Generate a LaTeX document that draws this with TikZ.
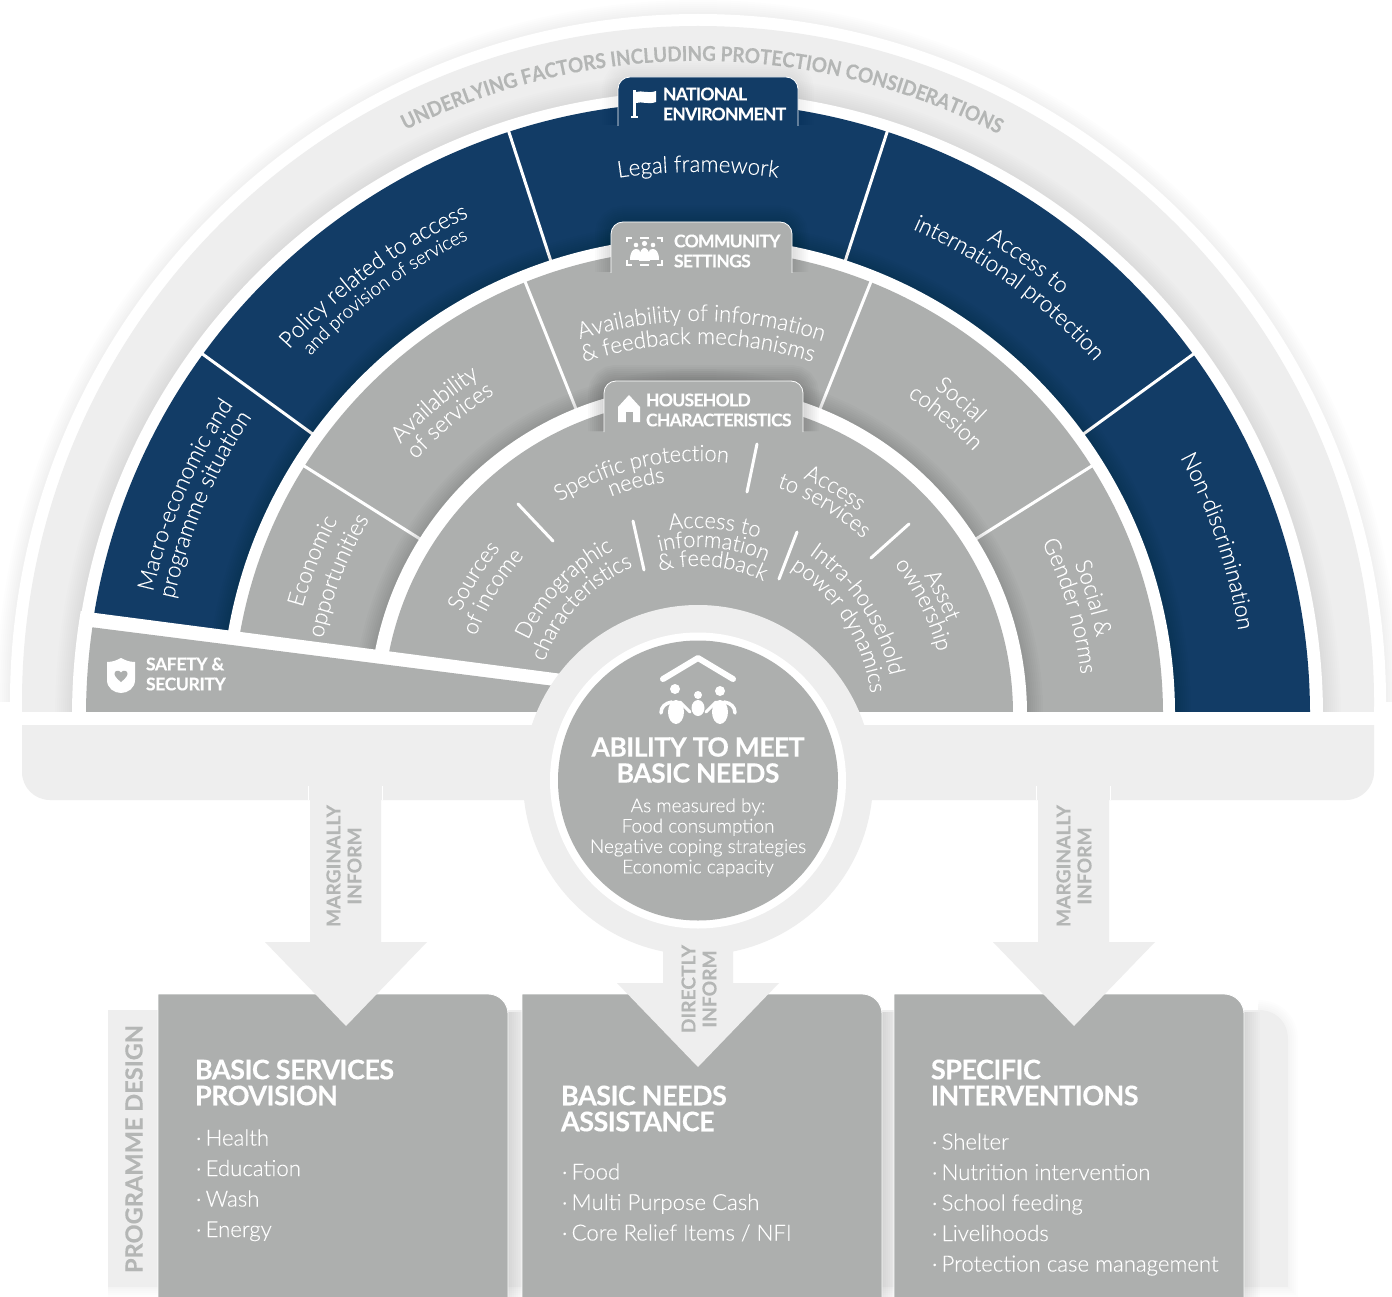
\documentclass[tikz,border=0pt]{standalone}
\usepackage{fontspec}
\setmainfont{Lato}
\newfontfamily\lt[FakeBold=0.25]{Lato Light}
\newfontfamily\lta[FakeBold=0.25,FakeStretch=0.97]{Lato Light}
\newfontfamily\hd[LetterSpace=-2,FakeBold=0.3]{Lato Bold}
\newfontfamily\hdt[LetterSpace=-4,FakeBold=0.3]{Lato Bold}
\newfontfamily\hdx[FakeBold=0.2]{Lato Bold}
\newfontfamily\hdu[FakeBold=0.2,FakeStretch=0.92]{Lato Bold}
\usetikzlibrary{decorations.text}
\definecolor{navy}{HTML}{123C66}
\definecolor{gr}{HTML}{ADAFAE}
\definecolor{lg}{HTML}{EEEEEE}
\definecolor{tg}{HTML}{B4B6B5}
\newcommand\sshade[2]{\foreach \w in {4,8,12,16,20,24,28,32}{\draw[black,draw opacity=#1,line width=\w pt,line cap=butt] #2;}}
\newcommand\arclab[4]{\path[decorate,decoration={text along path,text={|#3|#4},text align=center}] ({#2+70}:#1) arc[start angle=#2+70,end angle=#2-70,radius=#1];}
\def\LA{\color{white}\fontsize{23}{23}\lta}
\def\LB{\color{white}\fontsize{19}{19}\lta}
\def\LC{\color{white}\fontsize{23}{23}\lta}
\def\LD{\color{white}\fontsize{22.5}{22.5}\lta}
\def\LU{\color{tg}\fontsize{20.5}{20.5}\hdu}
\tikzset{
 lbl/.style={inner sep=0,outer sep=0,anchor=west,text=white},
 cen/.style={inner sep=0,outer sep=0,anchor=center,align=center},
 tabhead/.style={lbl,font=\hdt\fontsize{17.5}{20}\selectfont,align=left},
 boxhead/.style={lbl,font=\hd\fontsize{27}{26}\selectfont,align=left},
 boxitem/.style={inner sep=0,outer sep=0,anchor=base west,text=white,font=\lt\fontsize{22.2}{22}\selectfont},
 arrowtxt/.style={cen,rotate=90,text=tg,font=\hdx\fontsize{19.2}{21}\selectfont},
 divider/.style={white,line width=3pt},
 shortdiv/.style={white,line width=3pt,line cap=round},
}
\newcommand\dotitem[1]{·\kern-1.8pt\ #1}
\begin{document}
\begin{tikzpicture}[x=1pt,y=-1pt]
\useasboundingbox (0,0) rectangle (1392,1297);
\fill[white] (0,0) rectangle (1392,1297);
% outer white shape with soft shadow
\begin{scope}[shift={(698,702)},y=1pt]
 \foreach \w in {4,8,12,16,20,24,28}{\draw[black,draw opacity=.006,line width=\w pt] (0:688) arc[start angle=0,end angle=180,radius=688];}
 \fill[white] (0:688) arc[start angle=0,end angle=180,radius=688] -- (-688,-22) -- (688,-22) -- cycle;
 \begin{scope}
  \clip (-698,702) rectangle (694,-10);
  \fill[lg] (0,0) circle[radius=676];
 \end{scope}
\end{scope}
\fill[lg] (22,725) -- (1374,725) -- (1374,772) arc[start angle=0,end angle=90,radius=28] -- (50,800) arc[start angle=90,end angle=180,radius=28] -- cycle;
\fill[lg] (22,702) rectangle (73,712);
\fill[lg] (1323,702) rectangle (1374,712);
% wheel
\begin{scope}
\clip (0,0) rectangle (1392,712);
\begin{scope}[shift={(698,716)},y=1pt]
 \foreach \w in {4,8,...,36}{\draw[black,draw opacity=.008,line width=\w pt] (0:625) arc[start angle=0,end angle=180,radius=625];}
 \fill[white] (0,0) circle[radius=625];
\end{scope}
\begin{scope}[shift={(698,714)},y=1pt]
 \fill[navy] (0,0) circle[radius=612];
 \foreach \a in {36,72,108,144}{\draw[divider] (\a:470) -- (\a:614);}
 \sshade{.012}{(0:477) arc[start angle=0,end angle=180,radius=477]}
 \fill[white] (0,0) circle[radius=477];
 \fill[gr] (0,0) circle[radius=465];
 \foreach \a in {32.2,68.2,111.8,147.8}{\draw[divider] (\a:320) -- (\a:466);}
 \sshade{.016}{(0:329) arc[start angle=0,end angle=180,radius=329]}
 \fill[white] (0,0) circle[radius=329];
 \fill[gr] (0,0) circle[radius=315];
\end{scope}
\end{scope}
% safety wedge
\begin{scope}
 \clip (698,716) circle[radius=626];
 \fill[white] (70,609.7) -- (570,675) -- (570,712) -- (70,712) -- cycle;
\end{scope}
\begin{scope}
 \clip (90,627) -- (570,688) -- (570,712) -- (80,712) -- (80,626) -- cycle;
 \fill[gr] (698,716) circle[radius=612];
\end{scope}
\fill[white] (10,712) rectangle (1385,724.5);
% household dividers
\draw[shortdiv] (518,504) -- (553,541);
\draw[shortdiv] (757,444) -- (747,492);
\draw[shortdiv] (633,521) -- (644,570);
\draw[shortdiv] (797,532) -- (779,579);
\draw[shortdiv] (909,524) -- (871,558);
% arc labels
\begin{scope}[shift={(698,716)},y=1pt]
 \arclab{655}{89.6}{\LU}{UNDERLYING FACTORS INCLUDING PROTECTION CONSIDERATIONS}
 \arclab{544}{90}{\LA}{Legal framework}
 \arclab{556}{54}{\LA}{Access to}
 \arclab{532}{54}{\LA}{international protection}
 \arclab{547}{18.6}{\LA}{Non-discrimination}
 \arclab{549}{126.4}{\LA}{Policy related to access}
 \arclab{529}{126.4}{\LB}{and provision of services}
 \arclab{559}{156.7}{\LA}{Macro-economic and}
 \arclab{537}{156.8}{\LA}{programme situation}
 \arclab{395}{89.5}{\LC}{Availability of information}
 \arclab{372}{90}{\LC}{{\&} feedback mechanisms}
 \arclab{403}{130.2}{\LC}{Availability}
 \arclab{381}{130}{\LC}{of services}
 \arclab{410}{158.1}{\LC}{Economic}
 \arclab{383}{158.7}{\LC}{opportunities}
 \arclab{404}{50.3}{\LC}{Social}
 \arclab{382}{50.3}{\LC}{cohesion}
 \arclab{406}{16.6}{\LC}{Social {\&}}
 \arclab{385}{16.5}{\LC}{Gender norms}
 \arclab{255}{103}{\LD}{Specific protection}
 \arclab{236}{104.8}{\LD}{needs}
 \arclab{260}{59}{\LD}{Access}
 \arclab{242}{59}{\LD}{to services}
 \arclab{259}{148}{\LD}{Sources}
 \arclab{236}{148.8}{\LD}{of income}
 \arclab{266}{26.3}{\LD}{Asset}
 \arclab{248}{26.3}{\LD}{ownership}
 \arclab{186}{136.5}{\LD}{Demographic}
 \arclab{163}{137}{\LD}{characteristics}
 \arclab{188}{85}{\LD}{Access to}
 \arclab{169}{84.7}{\LD}{information}
 \arclab{150}{84.5}{\LD}{{\&} feedback}
 \arclab{196}{33.7}{\LD}{Intra-household}
 \arclab{174}{32.7}{\LD}{power dynamics}
\end{scope}
% tabs
\sshade{.006}{(618,125) [rounded corners=12] -- (618,77) -- (798,77) [sharp corners] -- (798,125)}
\fill[navy] (618,126) [rounded corners=12] -- (618,77) -- (798,77) [sharp corners] -- (798,126) -- cycle;
\draw[white,line width=.8pt] (618,126) [rounded corners=12] -- (618,77) -- (798,77) [sharp corners] -- (798,126);
\sshade{.014}{(611,272) [rounded corners=12] -- (611,222) -- (792,222) [sharp corners] -- (792,272)}
\fill[gr] (611,273) [rounded corners=12] -- (611,222) -- (792,222) [sharp corners] -- (792,273) -- cycle;
\draw[white,line width=.8pt] (611,273) [rounded corners=12] -- (611,222) -- (792,222) [sharp corners] -- (792,273);
\sshade{.018}{(604,431) [rounded corners=12] -- (604,381) -- (803,381) [sharp corners] -- (803,431)}
\fill[gr] (604,432) [rounded corners=12] -- (604,381) -- (803,381) [sharp corners] -- (803,432) -- cycle;
\draw[white,line width=.8pt] (604,432) [rounded corners=12] -- (604,381) -- (803,381) [sharp corners] -- (803,432);
\node[tabhead] (tnat) at (663,104) {NATIONAL\\ENVIRONMENT};
\node[tabhead] (tcom) at (674,251) {COMMUNITY\\SETTINGS};
\node[tabhead] (thou) at (646,410) {HOUSEHOLD\\CHARACTERISTICS};
\node[lbl,align=left,font=\hd\fontsize{17.5}{20}\selectfont] (tsaf) at (146,674) {SAFETY \&\\SECURITY};
% flag icon
\fill[white] (633,90) rectangle (635.5,117);
\fill[white] (631,116.5) rectangle (638,118);
\fill[white] (636,92) .. controls (642,90) and (648,94) .. (656,91) -- (656,102) .. controls (648,105) and (642,101) .. (636,103) -- cycle;
% community icon
\begin{scope}[white,line width=1.5pt]
 \draw (627,242) -- (627,238) -- (632,238);
 \draw (662,242) -- (662,238) -- (657,238);
 \draw (627,260) -- (627,265) -- (632,265);
 \draw (662,260) -- (662,265) -- (657,265);
 \draw (640,238) -- (649,238);
 \draw (640,265) -- (649,265);
\end{scope}
\fill[white] (636,245) circle[radius=2.3] (644.5,243.5) circle[radius=2.6] (653,245) circle[radius=2.3];
\fill[white] (630,260) .. controls (630,252) and (633,249) .. (636,249) .. controls (639,249) and (640,250) .. (640,252) -- (640,260) -- cycle;
\fill[white] (659,260) .. controls (659,252) and (656,249) .. (653,249) .. controls (650,249) and (649,250) .. (649,252) -- (649,260) -- cycle;
\fill[white] (639,261) .. controls (639,251) and (642,248) .. (644.5,248) .. controls (647,248) and (650,251) .. (650,261) -- cycle;
% house icon
\fill[white] (618,407) -- (629,395) -- (640,407) -- (640,422) -- (618,422) -- cycle;
\fill[gr] (626,412) rectangle (632.5,423);
% shield icon
\fill[white] (107,662) .. controls (113,662) and (117,660) .. (121,658) .. controls (125,660) and (129,662) .. (135,662) -- (135,680) .. controls (135,688) and (128,693) .. (121,693) .. controls (114,693) and (107,688) .. (107,680) -- cycle;
\fill[gr] (121,682) .. controls (116,678) and (114.5,675.5) .. (114.5,673.5) .. controls (114.5,670.5) and (119,669.5) .. (121,672.5) .. controls (123,669.5) and (127.5,670.5) .. (127.5,673.5) .. controls (127.5,675.5) and (126,678) .. (121,682) -- cycle;
% bottom back strip and boxes
\foreach \w in {4,8,12,16,20}{\draw[black,draw opacity=.006,line width=\w pt] (108,1287) -- (1288,1287) -- (1288,1040) .. controls (1288,1022) and (1276,1010) .. (1258,1010);}
\fill[lg] (108,1010) -- (1258,1010) .. controls (1276,1010) and (1288,1022) .. (1288,1040) -- (1288,1287) -- (108,1287) -- cycle;
\node[cen,rotate=90,text=tg,font=\hdx\fontsize{23.6}{24}\selectfont] (pd) at (134,1149) {PROGRAMME DESIGN};
\foreach \xa/\xb in {158/508,522/882,894/1244}{
 \sshade{.012}{(\xb,1012) -- (\xb,1297)}
 \fill[gr] (\xa,1297) -- (\xa,994) [rounded corners=20] -- (\xb,994) [sharp corners] -- (\xb,1297) -- cycle;
 \draw[white,line width=.8pt] (\xa,1297) -- (\xa,994) [rounded corners=20] -- (\xb,994) [sharp corners] -- (\xb,1297);
}
\node[boxhead] (b1h) at (195,1082.5) {BASIC SERVICES\\PROVISION};
\node[boxhead] (b2h) at (561,1108.5) {BASIC NEEDS\\ASSISTANCE};
\node[boxhead] (b3h) at (931,1082.5) {SPECIFIC\\INTERVENTIONS};
\node[boxitem] (i11) at (196,1145.5) {\dotitem{Health}};
\node[boxitem] (i12) at (196,1176) {\dotitem{Education}};
\node[boxitem] (i13) at (196,1206.5) {\dotitem{Wash}};
\node[boxitem] (i14) at (196,1237) {\dotitem{Energy}};
\node[boxitem] (i21) at (562,1179.5) {\dotitem{Food}};
\node[boxitem] (i22) at (562,1210) {\dotitem{Multi Purpose Cash}};
\node[boxitem] (i23) at (562,1240.5) {\dotitem{Core Relief Items / NFI}};
\node[boxitem] (i31) at (932,1149.5) {\dotitem{Shelter}};
\node[boxitem] (i32) at (932,1180) {\dotitem{Nutrition intervention}};
\node[boxitem] (i33) at (932,1210.5) {\dotitem{School feeding}};
\node[boxitem] (i34) at (932,1241) {\dotitem{Livelihoods}};
\node[boxitem] (i35) at (932,1271.5) {\dotitem{Protection case management}};
% arrows
\fill[lg] (310,786) -- (381,786) -- (381,942) -- (427,942) -- (346,1026) -- (265,942) -- (310,942) -- cycle;
\fill[lg] (1038,786) -- (1109,786) -- (1109,942) -- (1155,942) -- (1074,1026) -- (993,942) -- (1038,942) -- cycle;
\draw[white,line width=1.5pt] (308.5,786) -- (308.5,800) (382.5,786) -- (382.5,800) (1036.5,786) -- (1036.5,800) (1110.5,786) -- (1110.5,800);
% centre circle
\fill[lg] (698,780) circle[radius=175];
\fill[lg] (663,940) -- (733,940) -- (733,983) -- (779,983) -- (698,1067) -- (617,983) -- (663,983) -- cycle;
\fill[white] (698,780.5) circle[radius=148];
\fill[gr] (698,780.5) circle[radius=140];
\node[arrowtxt] (m1) at (344,866) {MARGINALLY\\INFORM};
\node[arrowtxt] (m2) at (1074,866) {MARGINALLY\\INFORM};
\node[arrowtxt] (d1) at (699,989) {DIRECTLY\\INFORM};
% family icon
\draw[white,line width=6pt,line cap=round,line join=round] (663,679) -- (698,658) -- (733,679);
\fill[white] (675,689) circle[radius=5] (698,695) circle[radius=4] (720,691) circle[radius=5];
\fill[white] (676,712) ellipse[x radius=8,y radius=12];
\fill[white] (720,712) ellipse[x radius=8,y radius=12];
\fill[white] (698,708) ellipse[x radius=6.5,y radius=8];
\draw[white,line width=3.5pt,line cap=round] (661,713) .. controls (661,707) and (665,703) .. (672,702);
\draw[white,line width=3.5pt,line cap=round] (735,713) .. controls (735,707) and (731,703) .. (724,702);
\draw[white,line width=3pt,line cap=round] (680,702) -- (690,712);
\draw[white,line width=3pt,line cap=round] (716,702) -- (706,712);
\node[cen,text=white,font=\hd\fontsize{26.5}{26}\selectfont] (ct) at (698,760) {ABILITY TO MEET\\BASIC NEEDS};
\node[cen,text=white,font=\lt\fontsize{19}{20.4}\selectfont] (cb) at (698,837.5) {As measured by:\\Food consumption\\Negative coping strategies\\Economic capacity};
\end{tikzpicture}
\end{document}
